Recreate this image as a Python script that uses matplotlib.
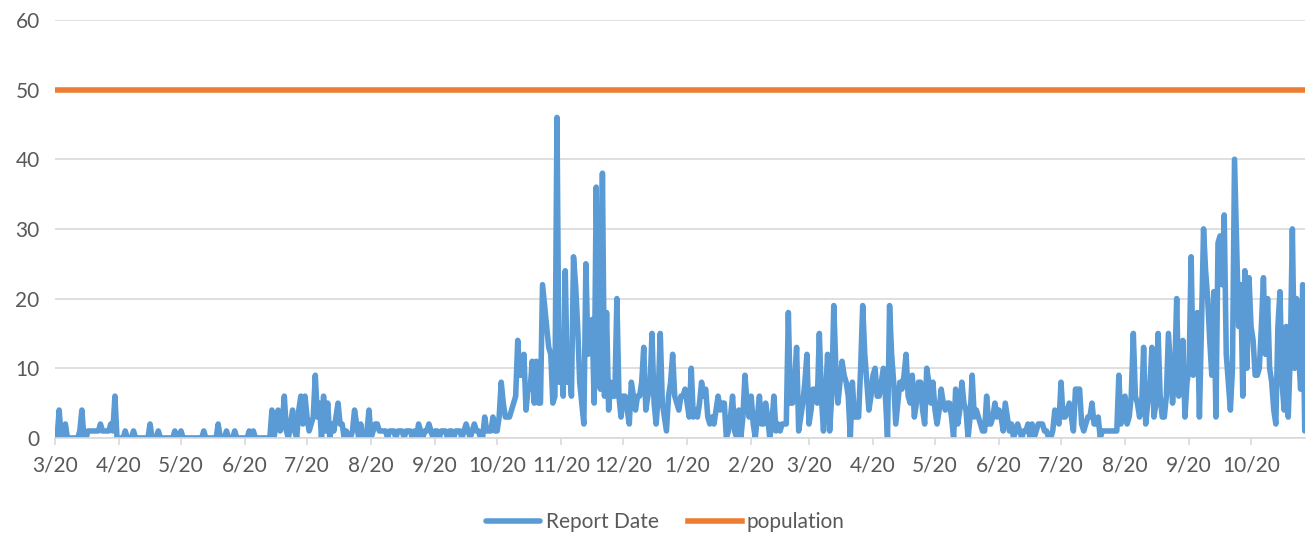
import matplotlib
matplotlib.use("Agg")
import matplotlib.pyplot as plt
import matplotlib.dates as mdates
import pandas as pd

# daily counts, starting 3/20/2020 (one value per day)
report_counts = [
    0, 0, 4, 0, 1, 2, 0, 0, 0, 0,
    0, 0, 1, 4, 0, 0, 1, 1, 1, 1,
    1, 1, 2, 1, 1, 1, 1, 2, 1, 6,
    0, 0, 0, 0, 1, 0, 0, 0, 1, 0,
    0, 0, 0, 0, 0, 0, 2, 0, 0, 0,
    1, 0, 0, 0, 0, 0, 0, 0, 1, 0,
    0, 1, 0, 0, 0, 0, 0, 0, 0, 0,
    0, 0, 1, 0, 0, 0, 0, 0, 0, 2,
    0, 0, 0, 1, 0, 0, 0, 1, 0, 0,
    0, 0, 0, 0, 1, 0, 1, 0, 0, 0,
    0, 0, 0, 0, 0, 4, 0, 2, 4, 1,
    2, 6, 1, 0, 2, 4, 1, 0, 4, 6,
    2, 6, 3, 1, 2, 3, 9, 3, 5, 0,
    6, 1, 5, 0, 2, 1, 3, 5, 2, 2,
    0, 1, 0, 0, 1, 4, 2, 0, 2, 0,
    0, 1, 4, 0, 1, 2, 2, 1, 1, 1,
    1, 0, 1, 1, 1, 0, 1, 1, 1, 0,
    1, 1, 1, 0, 1, 0, 2, 1, 0, 1,
    1, 2, 1, 0, 1, 1, 0, 1, 1, 1,
    0, 1, 1, 0, 1, 1, 1, 0, 1, 2,
    1, 0, 1, 2, 1, 1, 0, 0, 3, 1,
    1, 1, 3, 1, 1, 3, 8, 5, 3, 3,
    3, 4, 5, 6, 14, 9, 9, 12, 4, 7,
    7, 11, 5, 11, 5, 5, 22, 19, 16, 13,
    12, 5, 6, 46, 8, 12, 6, 24, 8, 10,
    6, 26, 22, 16, 8, 5, 2, 25, 12, 15,
    17, 5, 36, 15, 7, 38, 6, 18, 4, 8,
    6, 6, 20, 6, 3, 6, 6, 4, 2, 8,
    6, 4, 6, 6, 8, 13, 4, 6, 7, 15,
    5, 2, 6, 15, 5, 3, 1, 6, 8, 12,
    6, 5, 4, 6, 6, 7, 5, 3, 10, 3,
    4, 3, 5, 8, 6, 7, 3, 2, 3, 2,
    4, 6, 4, 5, 5, 0, 1, 3, 6, 1,
    0, 4, 0, 3, 9, 5, 3, 6, 2, 0,
    3, 6, 2, 2, 5, 3, 0, 2, 6, 1,
    2, 1, 2, 2, 2, 18, 5, 5, 8, 13,
    1, 3, 5, 8, 12, 2, 4, 7, 7, 5,
    15, 6, 1, 6, 12, 1, 6, 19, 10, 5,
    8, 11, 9, 8, 6, 0, 8, 3, 3, 3,
    10, 19, 12, 8, 4, 6, 9, 10, 6, 6,
    8, 10, 6, 0, 19, 12, 8, 2, 5, 8,
    7, 9, 12, 6, 5, 9, 3, 5, 8, 8,
    4, 2, 10, 8, 5, 8, 4, 2, 4, 7,
    5, 4, 5, 5, 3, 0, 7, 2, 4, 8,
    5, 4, 0, 3, 9, 3, 4, 3, 2, 1,
    1, 6, 2, 2, 3, 5, 3, 4, 3, 1,
    5, 3, 1, 2, 0, 1, 2, 1, 0, 1,
    1, 2, 0, 2, 0, 1, 2, 2, 2, 1,
    1, 0, 0, 1, 4, 3, 2, 8, 3, 3,
    4, 5, 3, 1, 7, 7, 7, 2, 1, 2,
    3, 3, 5, 2, 2, 3, 0, 1, 1, 1,
    1, 1, 1, 1, 1, 9, 2, 4, 6, 2,
    3, 6, 15, 6, 5, 3, 4, 13, 2, 5,
    7, 13, 3, 5, 15, 6, 3, 3, 6, 15,
    10, 5, 9, 20, 6, 8, 14, 3, 8, 10,
    26, 9, 12, 18, 3, 16, 30, 24, 20, 14,
    9, 21, 3, 28, 29, 22, 32, 12, 8, 4,
    10, 40, 28, 16, 22, 6, 24, 10, 23, 16,
    14, 9, 9, 10, 16, 23, 12, 20, 10, 8,
    4, 2, 16, 21, 8, 4, 16, 3, 12, 30,
    10, 20, 12, 7, 22, 1,
]
start_date = "2020-03-20"
population_level = 50

dates = pd.date_range(start_date, periods=len(report_counts), freq="D")
population = [population_level] * len(dates)

plt.rcParams["font.family"] = ["Lato", "DejaVu Sans"]
grey = "#595959"

fig = plt.figure(figsize=(13.1, 5.38), dpi=100)
ax = fig.add_axes([0.042, 0.186, 0.954, 0.777])

ax.plot(dates, report_counts, color="#5B9BD5", lw=4.0,
        solid_joinstyle="round", solid_capstyle="round", label="Report Date")
ax.plot(dates, population, color="#ED7D31", lw=4.0, label="population")

ax.set_ylim(0, 60)
ax.set_yticks(range(0, 61, 10))
ax.set_xlim(dates[0], dates[-1])
ax.xaxis.set_major_locator(mdates.MonthLocator(bymonthday=20))
ax.xaxis.set_major_formatter(plt.FuncFormatter(
    lambda v, pos: f"{mdates.num2date(v).month}/{mdates.num2date(v).day}"))

ax.grid(axis="y", color="#d9d9d9", lw=1.2)
ax.set_axisbelow(True)
for side in ["top", "right", "left"]:
    ax.spines[side].set_visible(False)
ax.spines["bottom"].set_color("#d9d9d9")
ax.spines["bottom"].set_linewidth(1.2)
ax.tick_params(axis="y", length=0, pad=11, labelsize=15, labelcolor=grey)
ax.tick_params(axis="x", length=5, width=1.2, color="#d9d9d9", pad=8,
               labelsize=15, labelcolor=grey)

ax.legend(loc="center", bbox_to_anchor=(0.508, 0.03), bbox_transform=fig.transFigure,
          ncol=2, frameon=False, fontsize=15, labelcolor=grey,
          handlelength=2.6, handletextpad=0.25, columnspacing=1.4)

fig.savefig("out.png", dpi=100)
